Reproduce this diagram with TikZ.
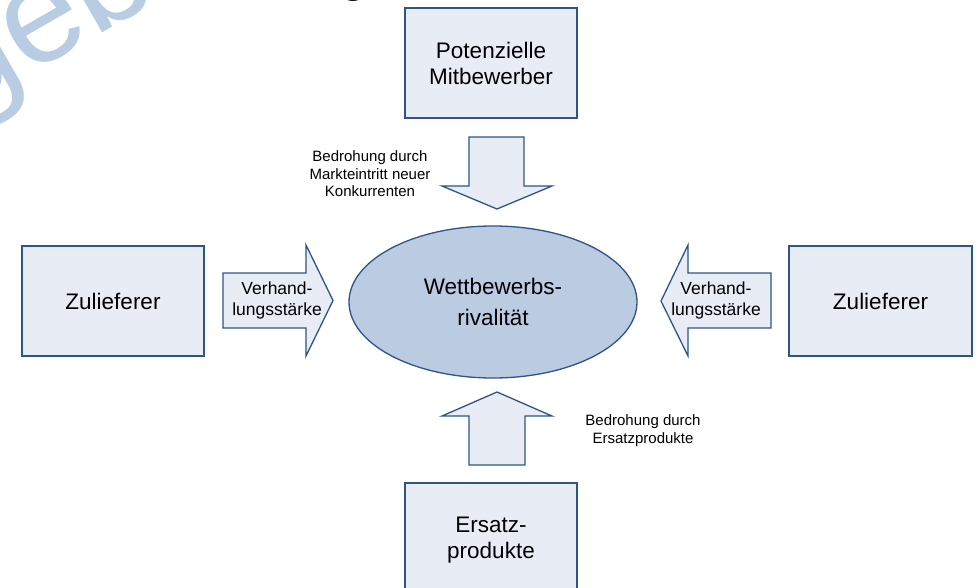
\documentclass[tikz,border=0pt]{standalone}
\usepackage{fontspec}
\setmainfont{Liberation Sans}
\usetikzlibrary{shapes.geometric}

\definecolor{frameblue}{HTML}{2E5489}
\definecolor{boxfill}{HTML}{E8EDF5}
\definecolor{corefill}{HTML}{BACBE2}
\definecolor{markblue}{HTML}{B8CCE4}

\tikzset{
  forcebox/.style={draw=frameblue, line width=1.3pt, fill=boxfill},
  blockarrow/.style={draw=frameblue, line width=1.3pt, fill=boxfill, line join=miter},
  boxtext/.style={align=center, font=\fontsize{22.5}{26}\selectfont},
  arrowtext/.style={align=center, font=\fontsize{17.5}{21}\selectfont},
  threattext/.style={align=center, font=\fontsize{15}{17.5}\selectfont},
}

\begin{document}
\begin{tikzpicture}[x=1pt, y=-1pt]
  \useasboundingbox (0,0) rectangle (977,588);
  \clip (0,0) rectangle (977,588);

  % faint lettering in the upper left corner
  \node[anchor=base west, rotate=30, text=markblue, inner sep=0pt,
        font=\fontsize{140}{140}\selectfont] (wm) at (-40,115) {geb};
  % descender of the heading above the frame
  \node[anchor=base west, inner sep=0pt, font=\fontsize{48}{48}\selectfont] (hd) at (340,-8) {g};

  % the five forces
  \path[forcebox] (405,8) rectangle (577,118);
  \node[boxtext] (entrants) at (491,63) {Potenzielle\\Mitbewerber};

  \path[forcebox] (22,246) rectangle (204,356);
  \node[boxtext] (supL) at (113,301) {Zulieferer};

  \path[forcebox] (789,246) rectangle (972,356);
  \node[boxtext] (supR) at (880.5,301) {Zulieferer};

  \path[forcebox] (405,483) rectangle (577,600);
  \node[boxtext] (subst) at (491,540) {Ersatz-\\produkte};

  % central rivalry
  \node[ellipse, draw=frameblue, line width=1.3pt, fill=corefill,
        minimum width=288pt, minimum height=152pt, inner sep=0pt] (core) at (493,302) {};
  \node[align=center, font=\fontsize{22.5}{31}\selectfont] (coretxt) at (493,302) {Wettbewerbs-\\rivalität};

  % block arrows towards the centre
  \path[blockarrow] (223,273) -- (306,273) -- (306,245) -- (333,300.5) -- (306,356)
        -- (306,328) -- (223,328) -- cycle;
  \node[arrowtext] (bargL) at (277,300) {Verhand-\\lungsstärke};

  \path[blockarrow] (771,273) -- (688,273) -- (688,245) -- (661,301) -- (688,356)
        -- (688,328) -- (771,328) -- cycle;
  \node[arrowtext] (bargR) at (716,300) {Verhand-\\lungsstärke};

  \path[blockarrow] (469,137) -- (524,137) -- (524,186) -- (552,186) -- (497,209)
        -- (442,186) -- (469,186) -- cycle;
  \node[threattext] (threatE) at (370,174) {Bedrohung durch\\Markteintritt neuer\\Konkurrenten};

  \path[blockarrow] (497,392) -- (552,416) -- (525,416) -- (525,465) -- (469,465)
        -- (469,416) -- (442,416) -- cycle;
  \node[threattext] (threatS) at (643,430.5) {Bedrohung durch\\Ersatzprodukte};
\end{tikzpicture}
\end{document}
